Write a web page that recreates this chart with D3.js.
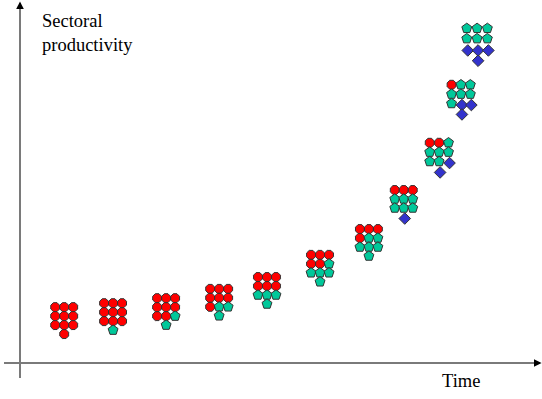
<!DOCTYPE html>
<html>
<head>
<meta charset="utf-8">
<script src="https://cdn.jsdelivr.net/npm/d3@7"></script>
<style>
  body { margin: 0; background: #fff; }
</style>
</head>
<body>
<div id="chart"></div>
<script>
(function(){

// one cluster per period: position on time axis and productivity level
const times = [8.5, 17.9, 28.1, 38.3, 47.5, 57.7, 67.1, 73.8, 80.6, 84.8, 87.9];
const productivity = [13.1, 14.2, 15.6, 18.2, 21.5, 27.7, 34.9, 45.8, 58.9, 75.1, 90.6];

// composition of each cluster (10 units each)
const redCounts  = [10, 9, 8, 7, 6, 5, 4, 3, 2, 1, 0];
const tealCounts = [0, 1, 2, 3, 4, 5, 6, 6, 6, 6, 6];
const blueCounts = [0, 0, 0, 0, 0, 0, 0, 1, 2, 3, 4];

const yLabel = ["Sectoral", "productivity"];
const xLabel = "Time";

const width = 542;
const height = 399;
const serif = "Liberation Serif, DejaVu Serif, Tinos, Times New Roman, serif";

const svg = d3.select("#chart")
  .append("svg")
  .attr("width", width)
  .attr("height", height);

const x = d3.scaleLinear().domain([0, 100]).range([20, 540]);
const y = d3.scaleLinear().domain([0, 100]).range([363, 5]);

const axisColor = "#7a7a7a";

const defs = svg.append("defs");
defs.append("marker")
  .attr("id", "arrow")
  .attr("viewBox", "0 0 10 10")
  .attr("refX", 8).attr("refY", 5)
  .attr("markerWidth", 4).attr("markerHeight", 4)
  .attr("orient", "auto")
  .append("path")
  .attr("d", "M0,0L10,5L0,10Z")
  .attr("fill", "#000");

// axes: plain lines with arrow heads
svg.append("line")
  .attr("x1", x(0) - 16).attr("x2", x(100))
  .attr("y1", y(0)).attr("y2", y(0))
  .attr("stroke", axisColor).attr("stroke-width", 2)
  .attr("marker-end", "url(#arrow)");

svg.append("line")
  .attr("x1", x(0)).attr("x2", x(0))
  .attr("y1", y(0) + 15).attr("y2", y(100) - 2)
  .attr("stroke", axisColor).attr("stroke-width", 2)
  .attr("marker-end", "url(#arrow)");

svg.append("text")
  .attr("x", 42).attr("y", 27)
  .style("font-family", serif)
  .attr("font-size", 18.5)
  .text(yLabel[0]);
svg.append("text")
  .attr("x", 42).attr("y", 51)
  .style("font-family", serif)
  .attr("font-size", 18.5)
  .text(yLabel[1]);

svg.append("text")
  .attr("x", 442).attr("y", 387)
  .style("font-family", serif)
  .attr("font-size", 18.5)
  .text(xLabel);

// shapes
function polygon(n, r, rot) {
  const pts = d3.range(n).map(i => {
    const a = rot + i * 2 * Math.PI / n;
    return [r * Math.cos(a), r * Math.sin(a)];
  });
  return "M" + pts.join("L") + "Z";
}
const octagon = polygon(8, 4.8, Math.PI / 8);
const pentagon = polygon(5, 5.2, -Math.PI / 2);
const diamond = polygon(4, 5.8, 0);

// slot layout: 3x3 grid row by row, then one below the middle column
function slots(step) {
  return d3.range(9).map(i => [(i % 3 - 1) * step, (Math.floor(i / 3) - 1) * step])
    .concat([[0, 2 * step]]);
}

const clusters = times.map((t, k) => ({
  t: t,
  p: productivity[k],
  red: redCounts[k],
  teal: tealCounts[k],
  blue: blueCounts[k],
  step: k === times.length - 1 ? 10.3 : (k >= 8 ? 9.4 : 9)
}));

const g = svg.append("g")
  .selectAll("g")
  .data(clusters)
  .enter()
  .append("g")
  .attr("transform", d => `translate(${x(d.t)},${y(d.p)})`);

g.selectAll("path")
  .data(d => slots(d.step).map((s, i) => {
    let kind = "blue";
    if (i < d.red) kind = "red";
    else if (i < d.red + d.teal) kind = "teal";
    return {x: s[0], y: s[1], kind: kind};
  }))
  .enter()
  .append("path")
  .attr("transform", d => d.kind === "blue"
    ? `translate(${d.x + 1},${d.y + 1.5})`
    : `translate(${d.x},${d.y})`)
  .attr("d", d => d.kind === "red" ? octagon : d.kind === "teal" ? pentagon : diamond)
  .attr("fill", d => d.kind === "red" ? "#ff0000" : d.kind === "teal" ? "#00c89a" : "#3333cc")
  .attr("stroke", "#333")
  .attr("stroke-width", 1);

})();
</script>
</body>
</html>
